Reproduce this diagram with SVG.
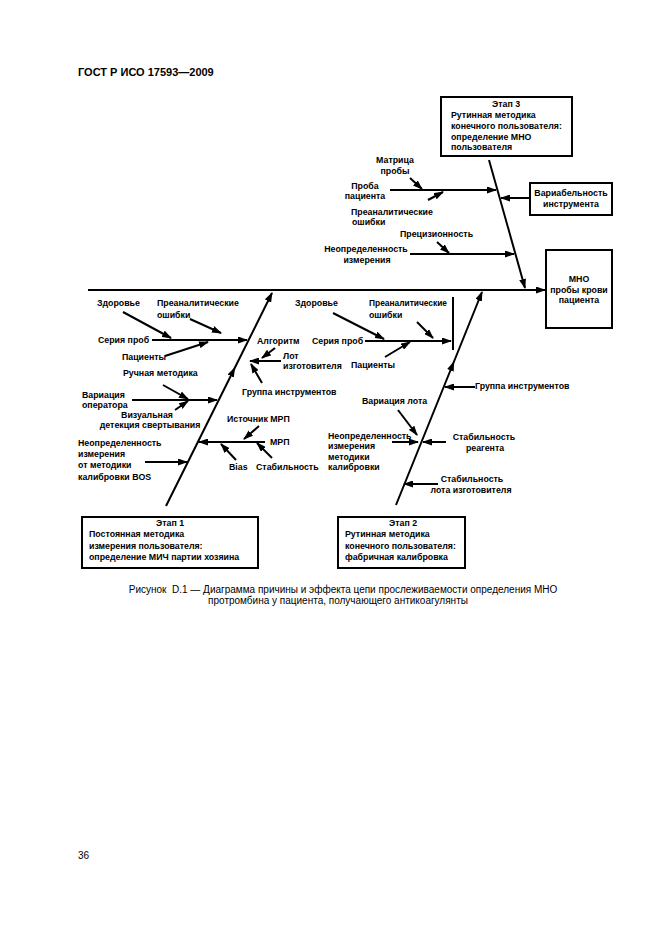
<svg xmlns="http://www.w3.org/2000/svg" width="661" height="936" viewBox="0 0 661 936">
<defs>
<marker id="ah" markerUnits="userSpaceOnUse" markerWidth="10" markerHeight="7" refX="9" refY="3.5" orient="auto"><path d="M0,0 L10,3.5 L0,7 z" fill="#000"/></marker>
<style>
.t{font-family:"Liberation Sans",Arial,sans-serif;font-size:8.8px;font-weight:bold;fill:#000}
.c{text-anchor:middle}
.ln{stroke:#000;stroke-width:2;fill:none;marker-end:url(#ah)}
.bone{stroke:#000;stroke-width:2;fill:none;marker-end:url(#ah);marker-mid:url(#ah)}
.plain{stroke:#000;stroke-width:2;fill:none}
.box{fill:#fff;stroke:#000;stroke-width:2}
.hd{font-family:"Liberation Sans",Arial,sans-serif;font-size:11px;font-weight:bold;fill:#000}
.cap{font-family:"Liberation Sans",Arial,sans-serif;font-size:10px;fill:#000}
</style>
</defs>
<rect width="661" height="936" fill="#fff"/>
<text class="hd" x="78" y="76">ГОСТ Р ИСО 17593—2009</text>

<g id="connectors">
<path class="ln" d="M88,290 L545,290"/>
<path class="ln" d="M489,160 L525,288"/>
<path class="ln" d="M390,190 L496,190"/>
<path class="ln" d="M410,178 L422,189"/>
<path class="ln" d="M428,200 L443,192"/>
<path class="ln" d="M530,198 L501,198"/>
<path class="ln" d="M410,254 L514,254"/>
<path class="ln" d="M437,242 L449,253"/>

<path class="bone" d="M166,506 L234.7,368 L272,293"/>
<path class="ln" d="M123,312 L171,338"/>
<path class="ln" d="M190,319 L221,333"/>
<path class="ln" d="M152,340 L247,340"/>
<path class="ln" d="M165,356 L208,342"/>
<path class="ln" d="M163,385 L188,399"/>
<path class="ln" d="M132,400 L217,400"/>
<path class="ln" d="M175,410 L188,401"/>
<path class="ln" d="M145,462 L187,462"/>
<path class="ln" d="M265,442 L199,442"/>
<path class="ln" d="M259,426 L244,439"/>
<path class="ln" d="M236,460 L221,444"/>
<path class="ln" d="M272,458 L257,443"/>
<path class="ln" d="M281,361 L250,361"/>
<path class="ln" d="M275,348 L262,358"/>
<path class="ln" d="M262,383 L251,364"/>

<path class="bone" d="M396,505 L453.8,362 L482,292"/>
<path class="plain" d="M453,297 L453,350"/>
<path class="ln" d="M333,313 L384,339"/>
<path class="ln" d="M417,322 L433,338"/>
<path class="ln" d="M365,341 L451,341"/>
<path class="ln" d="M385,357 L410,342"/>
<path class="ln" d="M475,387 L445,387"/>
<path class="ln" d="M398,410 L417,435"/>
<path class="ln" d="M392,442 L418,442"/>
<path class="ln" d="M446,442 L423,442"/>
<path class="ln" d="M438,484 L404,484"/>
</g>

<g id="stage3">
<rect class="box" x="441" y="97" width="131" height="59"/>
<text class="t c" x="506" y="107">Этап 3</text>
<text class="t" x="451" y="118">Рутинная методика</text>
<text class="t" x="451" y="129">конечного пользователя:</text>
<text class="t" x="451" y="140">определение МНО</text>
<text class="t" x="451" y="150">пользователя</text>
</g>
<g id="inr">
<rect class="box" x="546" y="250" width="66" height="78"/>
<text class="t c" x="579" y="282">МНО</text>
<text class="t c" x="579" y="293">пробы крови</text>
<text class="t c" x="579" y="303">пациента</text>
</g>
<g id="instrvar">
<rect class="box" x="530" y="183" width="82" height="32"/>
<text class="t c" x="571" y="196">Вариабельность</text>
<text class="t c" x="571" y="207">инструмента</text>
</g>
<g id="matrix"><text class="t c" x="395" y="163">Матрица</text><text class="t c" x="395" y="174">пробы</text></g>
<g id="sample"><text class="t c" x="365" y="189">Проба</text><text class="t c" x="365" y="199">пациента</text></g>
<g id="preanal3"><text class="t" x="351" y="215">Преаналитические</text><text class="t" x="352" y="225">ошибки</text></g>
<g id="precision"><text class="t" x="400" y="237">Прецизионность</text></g>
<g id="uncert3"><text class="t c" x="366" y="252">Неопределенность</text><text class="t c" x="367" y="263">измерения</text></g>

<g id="stage1">
<rect class="box" x="82" y="517" width="176" height="51"/>
<text class="t c" x="170" y="526">Этап 1</text>
<text class="t" x="89" y="537">Постоянная методика</text>
<text class="t" x="89" y="549">измерения пользователя:</text>
<text class="t" x="89" y="560">определение МИЧ партии хозяина</text>
</g>
<g id="health1"><text class="t" x="97" y="306">Здоровье</text></g>
<g id="preanal1"><text class="t" x="157" y="306">Преаналитические</text><text class="t" x="157" y="318">ошибки</text></g>
<g id="series1"><text class="t" x="98" y="343">Серия проб</text></g>
<g id="patients1"><text class="t" x="122" y="360">Пациенты</text></g>
<g id="manual"><text class="t" x="123" y="376">Ручная методика</text></g>
<g id="operator"><text class="t" x="82" y="398">Вариация</text><text class="t" x="82" y="408">оператора</text></g>
<g id="visual"><text class="t c" x="147" y="418">Визуальная</text><text class="t c" x="150" y="428">детекция свертывания</text></g>
<g id="uncert1"><text class="t" x="78" y="446">Неопределенность</text><text class="t" x="78" y="457">измерения</text><text class="t" x="78" y="468">от методики</text><text class="t" x="78" y="480">калибровки BOS</text></g>
<g id="algorithm"><text class="t" x="257" y="344">Алгоритм</text></g>
<g id="lot1"><text class="t" x="283" y="359">Лот</text><text class="t" x="283" y="369">изготовителя</text></g>
<g id="instr1"><text class="t" x="242" y="395">Группа инструментов</text></g>
<g id="crmsrc"><text class="t" x="227" y="422">Источник МРП</text></g>
<g id="crm"><text class="t" x="270" y="445">МРП</text></g>
<g id="bias"><text class="t" x="229" y="470">Bias</text></g>
<g id="stab1"><text class="t" x="256" y="470">Стабильность</text></g>

<g id="stage2">
<rect class="box" x="338" y="517" width="127" height="51"/>
<text class="t c" x="403" y="526">Этап 2</text>
<text class="t" x="345" y="537">Рутинная методика</text>
<text class="t" x="345" y="549">конечного пользователя:</text>
<text class="t" x="345" y="560">фабричная калибровка</text>
</g>
<g id="health2"><text class="t" x="295" y="306">Здоровье</text></g>
<g id="preanal2"><text class="t" x="369" y="306" style="font-size:8.4px">Преаналитические</text><text class="t" x="369" y="318">ошибки</text></g>
<g id="series2"><text class="t" x="312" y="344">Серия проб</text></g>
<g id="patients2"><text class="t" x="351" y="368">Пациенты</text></g>
<g id="instr2"><text class="t" x="475" y="389">Группа инструментов</text></g>
<g id="lotvar"><text class="t" x="362" y="404">Вариация лота</text></g>
<g id="uncert2"><text class="t" x="328" y="439">Неопределенность</text><text class="t" x="328" y="449">измерения</text><text class="t" x="328" y="460">методики</text><text class="t" x="328" y="470">калибровки</text></g>
<g id="reagstab"><text class="t c" x="484" y="440">Стабильность</text><text class="t c" x="485" y="451">реагента</text></g>
<g id="lotstab"><text class="t c" x="472" y="482">Стабильность</text><text class="t c" x="471" y="493">лота изготовителя</text></g>

<text class="cap" x="343" y="593" text-anchor="middle">Рисунок&#160;&#160;D.1 — Диаграмма причины и эффекта цепи прослеживаемости определения МНО</text>
<text class="cap" x="338" y="604" text-anchor="middle">протромбина у пациента, получающего антикоагулянты</text>
<text class="cap" x="78" y="859">36</text>
</svg>
